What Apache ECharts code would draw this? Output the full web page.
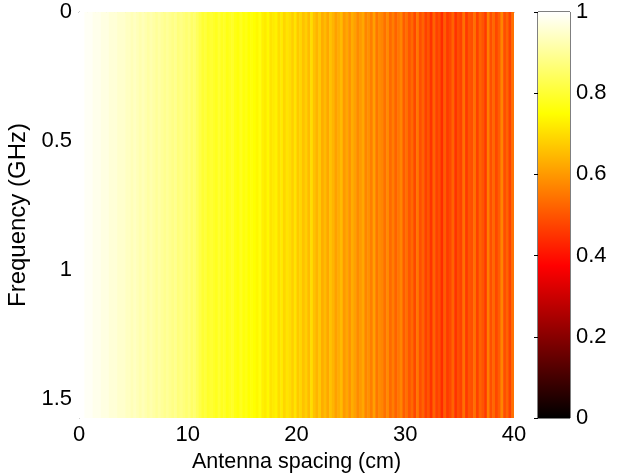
<!DOCTYPE html>
<html>
<head>
<meta charset="utf-8">
<script src="https://cdn.jsdelivr.net/npm/echarts@6/dist/echarts.min.js"></script>
<style>
html,body{margin:0;padding:0;background:#fff;}
#chart{width:621px;height:474px;}
</style>
</head>
<body>
<div id="chart"></div>
<script>
// Spacing axis: 0..40 cm, frequency axis 0..1.575 GHz
const SPACING_MIN = 0, SPACING_MAX = 40, SPACING_STEP = 0.25;
const FREQ_MIN = 0, FREQ_MAX = 1.575;
const xTicks = [0, 10, 20, 30, 40];
const yTicks = [0, 0.5, 1, 1.5];
const colorbarTicks = [0, 0.2, 0.4, 0.6, 0.8, 1];

// Normalised correlation per 0.25 cm spacing column
const correlation = [
  1.00, 1.00, 0.99, 0.99, 0.99, 0.98, 0.98, 0.98,
  0.97, 0.97, 0.97, 0.96, 0.96, 0.96, 0.95, 0.95,
  0.95, 0.94, 0.94, 0.93, 0.94, 0.93, 0.92, 0.93,
  0.92, 0.91, 0.92, 0.91, 0.90, 0.91, 0.90, 0.89,
  0.90, 0.89, 0.88, 0.89, 0.87, 0.88, 0.87, 0.86,
  0.87, 0.85, 0.86, 0.84, 0.82, 0.80, 0.81, 0.79,
  0.80, 0.79, 0.78, 0.80, 0.78, 0.79, 0.77, 0.78,
  0.79, 0.77, 0.76, 0.78, 0.76, 0.77, 0.75, 0.76,
  0.75, 0.74, 0.76, 0.73, 0.72, 0.74, 0.71, 0.72,
  0.73, 0.70, 0.72, 0.69, 0.71, 0.70, 0.68, 0.71,
  0.67, 0.69, 0.66, 0.68, 0.65, 0.70, 0.66, 0.64,
  0.67, 0.63, 0.65, 0.62, 0.66, 0.64, 0.61, 0.63,
  0.65, 0.60, 0.62, 0.59, 0.63, 0.61, 0.58, 0.60,
  0.62, 0.57, 0.59, 0.56, 0.61, 0.55, 0.58, 0.57,
  0.54, 0.58, 0.53, 0.56, 0.52, 0.55, 0.57, 0.51,
  0.54, 0.50, 0.53, 0.48, 0.55, 0.49, 0.52, 0.47,
  0.50, 0.45, 0.52, 0.47, 0.49, 0.44, 0.51, 0.46,
  0.48, 0.52, 0.45, 0.49, 0.47, 0.54, 0.46, 0.50,
  0.49, 0.54, 0.47, 0.52, 0.50, 0.46, 0.56, 0.49,
  0.53, 0.48, 0.51, 0.57, 0.49, 0.52, 0.47, 0.54
];

const hotColors = ['#000000','#550000','#aa0000','#ff0000','#ff5500','#ffaa00','#ffff00','#ffff80','#ffffff'];

const heatData = correlation.map((v, i) => [SPACING_MIN + (i + 0.5) * SPACING_STEP, v]);

const FONT = '"Liberation Sans", Arial, sans-serif';

const chart = echarts.init(document.getElementById('chart'));
chart.setOption({
  backgroundColor: '#ffffff',
  animation: false,
  textStyle: { fontFamily: FONT },
  grid: [
    { left: 79, top: 12, width: 435, height: 406, outerBoundsMode: 'none', containLabel: false },
    { left: 538, top: 12, width: 32, height: 406, outerBoundsMode: 'none', containLabel: false,
      show: true, borderColor: '#000', borderWidth: 1, backgroundColor: 'transparent' }
  ],
  visualMap: {
    show: false, type: 'continuous', min: 0, max: 1, dimension: 1, seriesIndex: 0,
    inRange: { color: hotColors }
  },
  xAxis: [
    {
      gridIndex: 0, type: 'value', min: SPACING_MIN, max: SPACING_MAX, interval: 10,
      name: 'Antenna spacing (cm)', nameLocation: 'middle', nameGap: 24,
      nameTextStyle: { fontSize: 21.5, color: '#000', fontFamily: FONT },
      axisLine: { show: true, lineStyle: { color: '#888', width: 1 } },
      axisTick: { show: false },
      splitLine: { show: false },
      axisLabel: { fontSize: 22, color: '#000', margin: 6, fontFamily: FONT }
    },
    {
      gridIndex: 1, type: 'value', min: 0, max: 1, show: false
    }
  ],
  yAxis: [
    {
      gridIndex: 0, type: 'value', min: FREQ_MIN, max: FREQ_MAX, interval: 0.5, inverse: true,
      name: 'Frequency (GHz)', nameLocation: 'middle', nameGap: 42, nameRotate: 90,
      nameTextStyle: { fontSize: 24, color: '#000', fontFamily: FONT },
      axisLine: { show: true, lineStyle: { color: '#888', width: 1 } },
      axisTick: { show: false },
      splitLine: { show: false },
      axisLabel: {
        fontSize: 22, color: '#000', margin: 7, fontFamily: FONT,
        formatter: v => (yTicks.some(t => Math.abs(t - v) < 1e-9) ? String(v) : '')
      }
    },
    {
      gridIndex: 1, type: 'value', min: 0, max: 1, interval: 0.2, position: 'right',
      axisLine: { show: false },
      axisTick: { show: true, inside: true, length: 4, lineStyle: { color: '#000' } },
      splitLine: { show: false },
      axisLabel: {
        fontSize: 22, color: '#000', margin: 6, fontFamily: FONT,
        formatter: v => (colorbarTicks.some(t => Math.abs(t - v) < 1e-9) ? String(+v.toFixed(1)) : '')
      }
    }
  ],
  series: [
    {
      type: 'custom', xAxisIndex: 0, yAxisIndex: 0, clip: true,
      data: heatData,
      encode: { x: 0 },
      renderItem: function (params, api) {
        const x = api.value(0);
        const p0 = api.coord([x - SPACING_STEP / 2, FREQ_MIN]);
        const p1 = api.coord([x + SPACING_STEP / 2, FREQ_MAX]);
        return {
          type: 'rect',
          shape: { x: p0[0], y: Math.min(p0[1], p1[1]), width: p1[0] - p0[0] + 0.6, height: Math.abs(p1[1] - p0[1]) },
          style: { fill: api.visual('color'), stroke: null }
        };
      }
    },
    {
      type: 'custom', xAxisIndex: 1, yAxisIndex: 1, silent: true,
      data: [[0, 0]],
      renderItem: function (params, api) {
        const p0 = api.coord([0, 0]);
        const p1 = api.coord([1, 1]);
        return {
          type: 'rect',
          shape: { x: p0[0], y: p1[1], width: p1[0] - p0[0], height: p0[1] - p1[1] },
          style: {
            fill: new echarts.graphic.LinearGradient(0, 1, 0, 0, [
              { offset: 0, color: '#000000' },
              { offset: 0.375, color: '#ff0000' },
              { offset: 0.75, color: '#ffff00' },
              { offset: 1, color: '#ffffff' }
            ])
          }
        };
      }
    }
  ]
});
</script>
</body>
</html>
